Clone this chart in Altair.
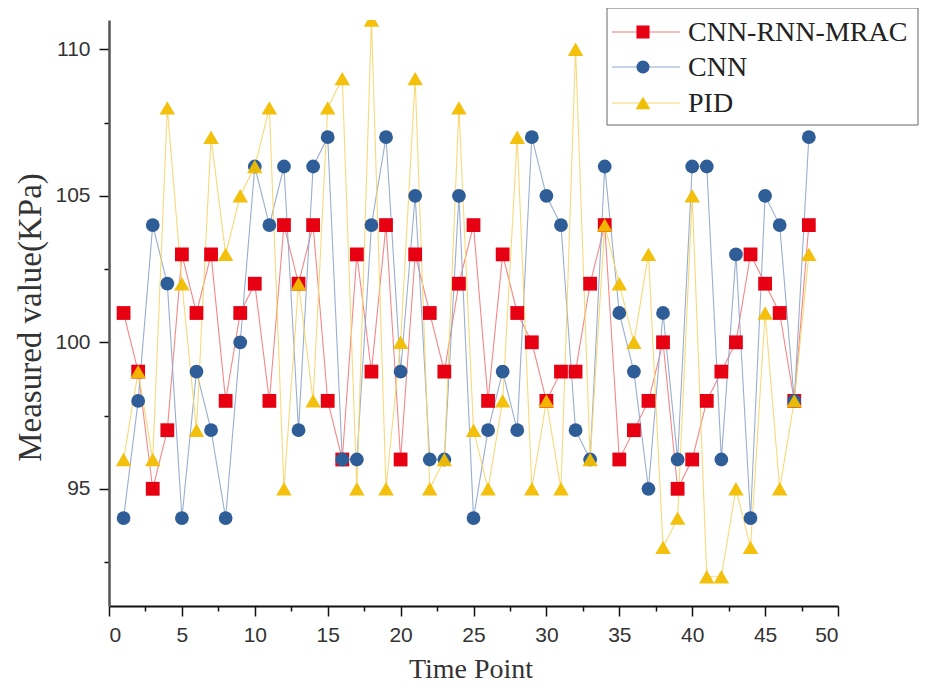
import altair as alt
import pandas as pd

# ---- data ----
time_points = list(range(1, 49))
mrac = [101, 99, 95, 97, 103, 101, 103, 98, 101, 102,
        98, 104, 102, 104, 98, 96, 103, 99, 104, 96,
        103, 101, 99, 102, 104, 98, 103, 101, 100, 98,
        99, 99, 102, 104, 96, 97, 98, 100, 95, 96,
        98, 99, 100, 103, 102, 101, 98, 104]
cnn = [94, 98, 104, 102, 94, 99, 97, 94, 100, 106,
       104, 106, 97, 106, 107, 96, 96, 104, 107, 99,
       105, 96, 96, 105, 94, 97, 99, 97, 107, 105,
       104, 97, 96, 106, 101, 99, 95, 101, 96, 106,
       106, 96, 103, 94, 105, 104, 98, 107]
pid = [96, 99, 96, 108, 102, 97, 107, 103, 105, 106,
       108, 95, 102, 98, 108, 109, 95, 111, 95, 100,
       109, 95, 96, 108, 97, 95, 98, 107, 95, 98,
       95, 110, 96, 104, 102, 100, 103, 93, 94, 105,
       92, 92, 95, 93, 101, 95, 98, 103]

series_names = ["CNN-RNN-MRAC", "CNN", "PID"]
series_values = [mrac, cnn, pid]
marker_colors = ["#E60012", "#2F5D97", "#F2BE00"]
line_colors = ["#F37B7B", "#8EA5CB", "#F6D56A"]
shapes = ["square", "circle", "triangle-up"]
sizes = [190, 190, 240]

x_ticks = [i * 2.5 for i in range(21)]
y_ticks = [92.5, 95, 97.5, 100, 102.5, 105, 107.5, 110]

W, H = 729, 586

major = "datum.value % 5 === 0"
x_enc = alt.X(
    "t:Q",
    scale=alt.Scale(domain=[0, 50], nice=False, zero=False),
    axis=alt.Axis(
        values=x_ticks,
        labelExpr=f"{major} ? datum.label : ''",
        tickSize={"condition": {"test": major, "value": 10}, "value": 5},
        labelPadding=8,
        title="Time Point",
        titleX=W / 2 - 3,
        titleY=63,
        titleBaseline="middle",
    ),
)
y_enc = alt.Y(
    "v:Q",
    scale=alt.Scale(domain=[91, 111], nice=False, zero=False),
    axis=alt.Axis(
        values=y_ticks,
        labelExpr=f"{major} ? datum.label : ''",
        tickSize={"condition": {"test": major, "value": 10}, "value": 5},
        labelPadding=9,
        title="Measured value(KPa)",
        titleX=-79,
        titleY=H / 2 + 4,
        titleBaseline="middle",
        domainColor="#555555",
        domainWidth=2.5,
    ),
)

frames = []
for name, vals in zip(series_names, series_values):
    frames.append(pd.DataFrame({"t": time_points, "v": vals, "series": name}))

layers = []
for df, lc in zip(frames, line_colors):
    layers.append(
        alt.Chart(df).mark_line(color=lc, strokeWidth=1.1, opacity=0.9, clip=True)
        .encode(x=x_enc, y=y_enc)
    )
for df, mc, sh, sz in zip(frames, marker_colors, shapes, sizes):
    layers.append(
        alt.Chart(df).mark_point(filled=True, color=mc, shape=sh, size=sz,
                                 opacity=0.95 if sh == "triangle-up" else 1, clip=True)
        .encode(x=x_enc, y=y_enc)
    )

# ---- legend (top right box) ----
layers.append(
    alt.Chart(pd.DataFrame({"a": [0]})).mark_rect(fill="white", stroke="#666666", strokeWidth=1)
    .encode(x=alt.value(498), x2=alt.value(809), y=alt.value(-12), y2=alt.value(105))
)
legend_rows = [12, 47, 83]
for name, lc, mc, sh, sz, ly in zip(series_names, line_colors, marker_colors, shapes, sizes, legend_rows):
    ldf = pd.DataFrame({"label": [name]})
    layers.append(
        alt.Chart(ldf).mark_rule(color=lc, strokeWidth=1.2)
        .encode(x=alt.value(503), x2=alt.value(571), y=alt.value(ly))
    )
    layers.append(
        alt.Chart(ldf).mark_point(filled=True, color=mc, shape=sh, size=sz * 0.9, opacity=1)
        .encode(x=alt.value(534), y=alt.value(ly))
    )
    layers.append(
        alt.Chart(ldf).mark_text(align="left", baseline="middle", font="Liberation Serif",
                                 fontSize=28, color="#222222")
        .encode(x=alt.value(579), y=alt.value(ly + 1), text="label:N")
    )

chart = (
    alt.layer(*layers)
    .properties(width=W, height=H, autosize="none",
                padding={"left": 101, "top": 12, "right": 81, "bottom": 78})
    .configure_view(stroke=None)
    .configure_axis(
        grid=False,
        domainColor="#111111",
        domainWidth=2,
        tickColor="#111111",
        tickWidth=1.5,
        labelFont="Liberation Sans",
        labelFontSize=21,
        labelColor="#333333",
        titleFont="Liberation Serif",
        titleFontWeight="normal",
        titleColor="#333333",
    )
    .configure_axisX(titleFontSize=28)
    .configure_axisY(titleFontSize=33)
)

chart.save("out.html", embed_options={"renderer": "svg", "actions": False})
